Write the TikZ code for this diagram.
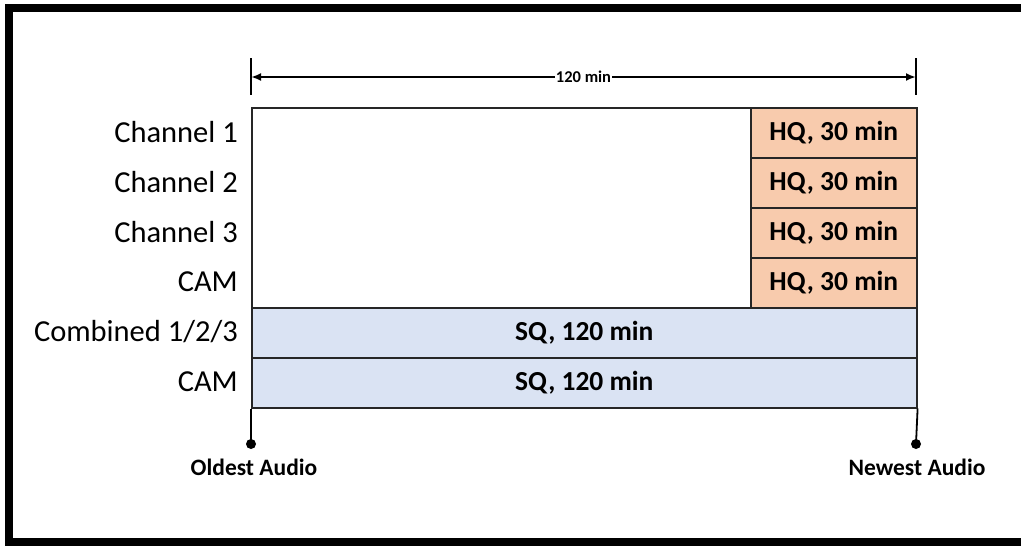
\documentclass[tikz,border=0pt]{standalone}
\usepackage{fontspec}
\setmainfont{Carlito}
\definecolor{hqfill}{RGB}{248,203,173}
\definecolor{sqfill}{RGB}{218,227,243}
\definecolor{edge}{RGB}{38,38,38}
\usetikzlibrary{arrows.meta,positioning}

\begin{document}
\begin{tikzpicture}[x=1pt,y=-1pt,
    cell/.style={draw=edge,line width=1.6pt,inner sep=0pt,anchor=north west,
      minimum height=50pt,font=\bfseries\fontsize{27.5}{32}\selectfont},
    rowlabel/.style={anchor=east,inner sep=0pt,font=\fontsize{30.5}{36}\selectfont},
    endlabel/.style={inner sep=0pt,font=\bfseries\fontsize{23.5}{28}\selectfont}]
  \useasboundingbox (0,0) rectangle (1021,546);
  % frame
  \draw[line width=8.5pt] (1021,8) -- (9,8) -- (9,542) -- (1021,542);
  % cells
  \node[cell,minimum width=499pt,minimum height=200pt] (blank) at (251,107) {};
  \foreach \i in {1,...,4}
    \node[cell,fill=hqfill,minimum width=166pt] (hq\i) at (750,{57+50*\i}) {HQ, 30 min};
  \node[cell,fill=sqfill,minimum width=665pt] (sq1) at (251,307) {SQ, 120 min};
  \node[cell,fill=sqfill,minimum width=665pt] (sq2) at (251,357) {SQ, 120 min};
  % row labels
  \foreach \t [count=\i] in {Channel 1,Channel 2,Channel 3,CAM}
    \node[rowlabel] (lab\i) at (238,{82+50*\i}) {\t};
  \node[rowlabel] (lab5) at (238,332) {Combined 1/2/3};
  \node[rowlabel] (lab6) at (238,382) {CAM};
  % 120 min span
  \coordinate (dimL) at (251,77);
  \coordinate (dimR) at (916,77);
  \draw[line width=1.5pt] (251,58) -- (251,95);
  \draw[line width=1.5pt] (916,58) -- (916,95);
  \draw[{Latex[length=10pt,width=8pt]}-{Latex[length=10pt,width=8pt]},line width=2.2pt] (dimL) -- node[fill=white,inner sep=1pt,font=\bfseries\fontsize{16.5}{19}\selectfont] (span) {120 min} (dimR);
  % oldest / newest
  \coordinate (oldpin) at (251,444);
  \coordinate (newpin) at (916,444);
  \draw[line width=1.8pt] (sq2.south west) -- (oldpin);
  \draw[line width=1.8pt] (sq2.south east) -- (newpin);
  \fill (oldpin) circle (5pt);
  \fill (newpin) circle (5pt);
  \node[endlabel] (old) at (254,467) {Oldest Audio};
  \node[endlabel] (new) at (917,467) {Newest Audio};
\end{tikzpicture}
\end{document}
